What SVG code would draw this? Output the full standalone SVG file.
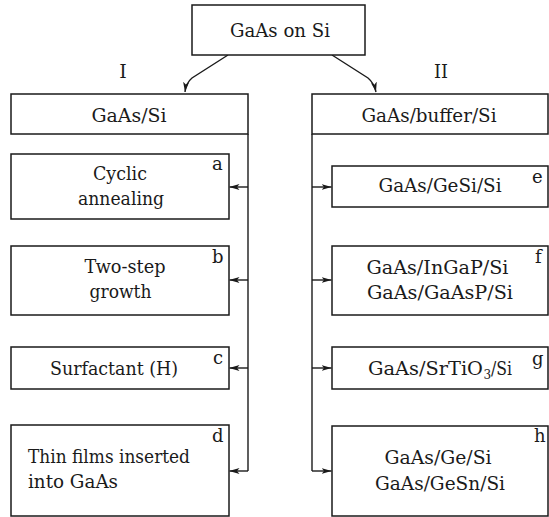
<svg xmlns="http://www.w3.org/2000/svg" width="549" height="517" viewBox="0 0 549 517">
  <style>
    .box { fill: #fff; stroke: #1a1a1a; stroke-width: 1.5; }
    .wire { fill: none; stroke: #1a1a1a; stroke-width: 1.4; }
    .t { font-family: 'DejaVu Serif', 'Liberation Serif', serif; font-size: 19px; fill: #1a1a1a; }
    .c { text-anchor: middle; }
    .tag { font-size: 18px; }
  </style>
  <defs>
    <marker id="arrow" viewBox="0 0 10 6" refX="10" refY="3" markerWidth="10" markerHeight="6" markerUnits="userSpaceOnUse" orient="auto">
      <path d="M0,0 L10,3 L0,6 L2.5,3 Z" fill="#1a1a1a"/>
    </marker>
  </defs>
  <rect width="549" height="517" fill="#fff"/>

  <!-- connectors -->
  <g id="connectors">
    <path class="wire" d="M228,55 L192,78 Q186,83 185,92" marker-end="url(#arrow)"/>
    <path class="wire" d="M332,55 L368,78 Q374,83 376,92" marker-end="url(#arrow)"/>
    <path class="wire" d="M248,134 V471"/>
    <path class="wire" d="M248,187 H229.5" marker-end="url(#arrow)"/>
    <path class="wire" d="M248,280 H229.5" marker-end="url(#arrow)"/>
    <path class="wire" d="M248,368 H229.5" marker-end="url(#arrow)"/>
    <path class="wire" d="M248,471 H229.5" marker-end="url(#arrow)"/>
    <path class="wire" d="M312,134 V471"/>
    <path class="wire" d="M312,187 H331.5" marker-end="url(#arrow)"/>
    <path class="wire" d="M312,280 H331.5" marker-end="url(#arrow)"/>
    <path class="wire" d="M312,368 H331.5" marker-end="url(#arrow)"/>
    <path class="wire" d="M312,471 H331.5" marker-end="url(#arrow)"/>
  </g>

  <g class="t">
    <g id="root">
      <rect class="box" x="192" y="5" width="173" height="50"/>
      <text class="c" x="280" y="37" textLength="100" lengthAdjust="spacingAndGlyphs">GaAs on Si</text>
    </g>
    <text id="label-I" class="c" x="123" y="78">I</text>
    <text id="label-II" class="c" x="441" y="78" textLength="14" lengthAdjust="spacingAndGlyphs">II</text>
    <g id="branch-I">
      <rect class="box" x="11" y="94" width="237" height="40"/>
      <text class="c" x="129" y="122" textLength="75" lengthAdjust="spacingAndGlyphs">GaAs/Si</text>
    </g>
    <g id="branch-II">
      <rect class="box" x="312" y="94" width="236" height="40"/>
      <text class="c" x="429" y="122" textLength="135" lengthAdjust="spacingAndGlyphs">GaAs/buffer/Si</text>
    </g>
    <g id="node-a">
      <rect class="box" x="11" y="154" width="218" height="65"/>
      <text class="c" x="120" y="180" textLength="54" lengthAdjust="spacingAndGlyphs">Cyclic</text>
      <text class="c" x="121" y="205" textLength="86" lengthAdjust="spacingAndGlyphs">annealing</text>
      <text class="tag" x="212" y="170">a</text>
    </g>
    <g id="node-b">
      <rect class="box" x="11" y="246" width="218" height="69"/>
      <text class="c" x="125" y="273" textLength="81" lengthAdjust="spacingAndGlyphs">Two-step</text>
      <text class="c" x="120.5" y="298" textLength="62" lengthAdjust="spacingAndGlyphs">growth</text>
      <text class="tag" x="212" y="263">b</text>
    </g>
    <g id="node-c">
      <rect class="box" x="11" y="347" width="218" height="42"/>
      <text class="c" x="114" y="375" textLength="128" lengthAdjust="spacingAndGlyphs">Surfactant (H)</text>
      <text class="tag" x="213" y="364">c</text>
    </g>
    <g id="node-d">
      <rect class="box" x="11" y="425" width="218" height="91"/>
      <text x="28" y="463" textLength="162" lengthAdjust="spacingAndGlyphs">Thin films inserted</text>
      <text x="28" y="488" textLength="90" lengthAdjust="spacingAndGlyphs">into GaAs</text>
      <text class="tag" x="212" y="442">d</text>
    </g>
    <g id="node-e">
      <rect class="box" x="332" y="166" width="216" height="41"/>
      <text class="c" x="440" y="192" textLength="123" lengthAdjust="spacingAndGlyphs">GaAs/GeSi/Si</text>
      <text class="tag" x="532" y="183">e</text>
    </g>
    <g id="node-f">
      <rect class="box" x="332" y="246" width="216" height="69"/>
      <text class="c" x="437.5" y="274" textLength="142" lengthAdjust="spacingAndGlyphs">GaAs/InGaP/Si</text>
      <text class="c" x="440" y="299" textLength="146" lengthAdjust="spacingAndGlyphs">GaAs/GaAsP/Si</text>
      <text class="tag" x="535" y="263">f</text>
    </g>
    <g id="node-g">
      <rect class="box" x="332" y="347" width="216" height="42"/>
      <text x="368" y="375" textLength="115" lengthAdjust="spacingAndGlyphs">GaAs/SrTiO</text>
      <text x="483.5" y="379" font-size="12">3</text>
      <text x="491" y="375" textLength="21" lengthAdjust="spacingAndGlyphs">/Si</text>
      <text class="tag" x="532" y="365">g</text>
    </g>
    <g id="node-h">
      <rect class="box" x="332" y="426" width="216" height="90"/>
      <text class="c" x="438" y="464" textLength="107" lengthAdjust="spacingAndGlyphs">GaAs/Ge/Si</text>
      <text class="c" x="440" y="490" textLength="130" lengthAdjust="spacingAndGlyphs">GaAs/GeSn/Si</text>
      <text class="tag" x="534" y="442">h</text>
    </g>
  </g>
</svg>
